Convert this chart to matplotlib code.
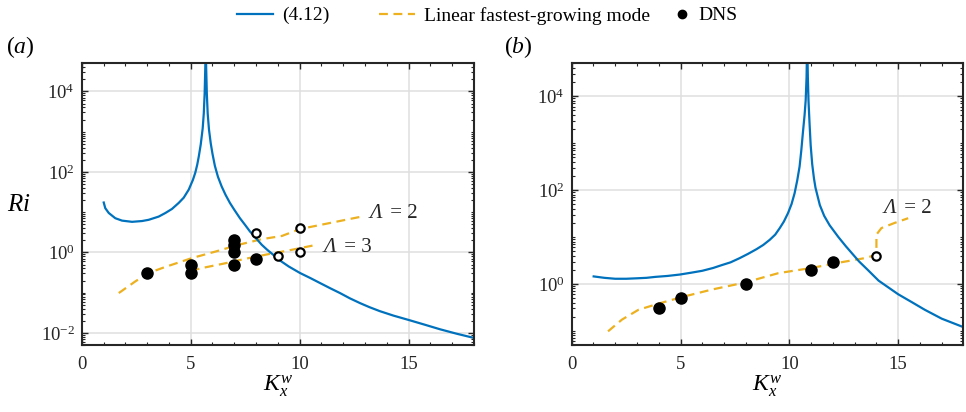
import numpy as np
import matplotlib.pyplot as plt
from matplotlib.ticker import FixedLocator, LogLocator, MultipleLocator, LogFormatterMathtext, NullFormatter

plt.rcParams['font.family'] = ['Liberation Serif', 'DejaVu Serif']
plt.rcParams['mathtext.fontset'] = 'custom'
plt.rcParams['mathtext.rm'] = 'Liberation Serif'
plt.rcParams['mathtext.it'] = 'Liberation Serif:italic'
plt.rcParams['mathtext.bf'] = 'Liberation Serif:bold'

blue = '#0072BD'
yellow = '#EDB120'

# ---- panel (a) data (log10 for Ri) ----
a_curve_k = [1.01, 1.08, 1.24, 1.54, 1.85, 2.31, 2.77, 3.07, 3.53, 3.84, 4.14, 4.45, 4.68,
             4.91, 5.10, 5.21, 5.30, 5.37, 5.46, 5.55, 5.60, 5.64, 5.67, 5.69,
             5.71, 5.74, 5.78, 5.84, 5.92, 6.00, 6.11, 6.25, 6.42, 6.60, 6.80, 7.00,
             7.26, 7.50, 7.72, 8.00, 8.26, 8.50, 8.79, 9.04, 9.50, 10.01, 10.50, 10.93,
             11.40, 11.85, 12.30, 12.77, 13.20, 13.68, 14.30, 15.01, 15.70, 16.44, 17.20,
             17.96, 18.10]
a_curve_logri = [1.24, 1.10, 0.98, 0.85, 0.79, 0.76, 0.78, 0.81, 0.89, 0.98, 1.08, 1.23, 1.36,
                 1.56, 1.80, 1.98, 2.18, 2.38, 2.68, 3.08, 3.45, 3.95, 4.60, 5.20,
                 4.60, 3.95, 3.45, 3.05, 2.71, 2.45, 2.15, 1.88, 1.64, 1.43, 1.23, 1.06,
                 0.85, 0.68, 0.52, 0.35, 0.19, 0.07, -0.06, -0.18, -0.35, -0.51, -0.64, -0.76,
                 -0.89, -1.01, -1.14, -1.26, -1.36, -1.46, -1.57, -1.68, -1.79, -1.91, -2.02,
                 -2.12, -2.14]

a_lam2_k = [1.70, 2.46, 3.07, 3.84, 5.06, 6.13, 7.20, 8.27, 9.19, 10.01, 12.84]
a_lam2_logri = [-1.01, -0.72, -0.51, -0.36, -0.14, 0.02, 0.19, 0.33, 0.41, 0.58, 0.89]
a_lam3_k = [5.0, 5.5, 6.5, 7.5, 8.5, 9.5, 10.6]
a_lam3_logri = [-0.46, -0.39, -0.28, -0.16, -0.05, 0.05, 0.17]

a_dns_k = [3, 5, 5, 7, 7, 7, 7, 8]
a_dns_ri = [0.3, 0.5, 0.3, 2.0, 1.5, 1.0, 0.5, 0.7]
a_open_k = [8, 9, 10, 10]
a_open_ri = [3.0, 0.8, 4.0, 1.0]

# ---- panel (b) data ----
b_curve_k = [1.01, 1.50, 2.00, 2.50, 3.00, 3.44, 3.84, 4.40, 4.97, 5.50, 6.00, 6.50, 6.89,
             7.30, 7.72, 8.10, 8.49, 8.80, 9.10, 9.35, 9.56, 9.75, 9.94, 10.10, 10.24, 10.36,
             10.47, 10.55, 10.62, 10.70, 10.75, 10.79, 10.82,
             10.85, 10.88, 10.93, 10.98, 11.05, 11.13, 11.20, 11.40, 11.60, 11.85, 12.25,
             12.60, 13.20, 13.60, 14.10, 15.00, 15.67, 16.22, 17.00, 18.05]
b_curve_logri = [0.16, 0.13, 0.11, 0.11, 0.12, 0.13, 0.15, 0.17, 0.20, 0.24, 0.28, 0.34, 0.40,
                 0.46, 0.55, 0.64, 0.74, 0.83, 0.94, 1.05, 1.19, 1.33, 1.51, 1.70, 1.93, 2.20,
                 2.50, 2.85, 3.21, 3.60, 3.91, 4.40, 5.20,
                 4.40, 3.90, 3.40, 2.95, 2.55, 2.25, 2.05, 1.68, 1.45, 1.25, 1.00,
                 0.80, 0.48, 0.30, 0.07, -0.22, -0.40, -0.55, -0.74, -0.93]

b_lam2_k = [1.67, 2.31, 3.07, 3.99, 5.06, 6.44, 7.96, 9.50, 11.02, 12.24, 13.47, 14.0, 14.0,
            14.23, 14.84, 15.46]
b_lam2_logri = [-1.01, -0.76, -0.55, -0.42, -0.28, -0.12, 0.03, 0.23, 0.34, 0.45, 0.55, 0.62,
                1.05, 1.19, 1.30, 1.40]

b_dns_k = [4, 5, 8, 11, 12]
b_dns_ri = [0.3, 0.5, 1.0, 2.0, 3.0]
b_open_k = [14]
b_open_ri = [4.0]


def style_axes(ax, ylim, yticks):
    ax.set_yscale('log')
    ax.set_xlim(0, 18)
    ax.set_ylim(*ylim)
    ax.xaxis.set_major_locator(FixedLocator([0, 5, 10, 15]))
    ax.xaxis.set_minor_locator(MultipleLocator(1))
    ax.yaxis.set_major_locator(FixedLocator(yticks))
    ax.yaxis.set_major_formatter(LogFormatterMathtext())
    ax.yaxis.set_minor_locator(LogLocator(base=10, subs=np.arange(1, 10), numticks=30))
    ax.yaxis.set_minor_formatter(NullFormatter())
    ax.grid(True, which='major', color='#DFDFDF', linewidth=1.1)
    ax.set_axisbelow(True)
    ax.tick_params(which='both', direction='in', top=True, right=True,
                   color='#262626', labelsize=13.5, labelcolor='#262626')
    ax.tick_params(which='major', length=4, width=1.0)
    ax.tick_params(which='minor', length=2.2, width=0.8)
    ax.tick_params(axis='x', pad=8)
    ax.tick_params(axis='y', pad=5)
    for s in ax.spines.values():
        s.set_linewidth(1.5)
        s.set_color('#262626')
    ax.set_xlabel(r'$K_x^w$', fontsize=17, labelpad=0)


def lam_label(ax, x, y, n):
    # italic capital lambda followed by an upright "= n"
    t = ax.text(x, y, '\u039b', fontsize=15, fontstyle='italic', va='center', color='#262626')
    ax.annotate(' = ' + str(n), xy=(1, 0), xycoords=t, xytext=(2, 0),
                textcoords='offset points', va='bottom', ha='left',
                fontsize=15, color='#262626')


fig = plt.figure(figsize=(9.66, 4.12), dpi=100)
ax1 = fig.add_axes([0.0846, 0.1626, 0.4061, 0.6837])
ax2 = fig.add_axes([0.5918, 0.1626, 0.4056, 0.6837])

dash = (0, (4, 2.5))

# panel (a)
ax1.plot(a_lam2_k, 10 ** np.array(a_lam2_logri), color=yellow, lw=1.6, ls=dash)
ax1.plot(a_lam3_k, 10 ** np.array(a_lam3_logri), color=yellow, lw=1.6, ls=dash)
ax1.plot(a_curve_k, 10 ** np.array(a_curve_logri), color=blue, lw=1.6)
ax1.plot(a_dns_k, a_dns_ri, 'o', color='black', ms=8, zorder=5)
ax1.plot(a_open_k, a_open_ri, 'o', mfc='white', mec='black', mew=1.6, ms=6, zorder=5)
style_axes(ax1, (5e-3, 5e4), [1e-2, 1e0, 1e2, 1e4])
lam_label(ax1, 13.2, 9.5, 2)
lam_label(ax1, 11.1, 1.3, 3)

# panel (b)
ax2.plot(b_lam2_k, 10 ** np.array(b_lam2_logri), color=yellow, lw=1.6, ls=dash)
ax2.plot(b_curve_k, 10 ** np.array(b_curve_logri), color=blue, lw=1.6)
ax2.plot(b_dns_k, b_dns_ri, 'o', color='black', ms=8, zorder=5)
ax2.plot(b_open_k, b_open_ri, 'o', mfc='white', mec='black', mew=1.6, ms=6, zorder=5)
style_axes(ax2, (5e-2, 5e4), [1e0, 1e2, 1e4])
lam_label(ax2, 14.35, 41, 2)

# labels
fig.text(0.019, 0.502, r'$Ri$', fontsize=18, ha='center', va='center')
fig.text(0.006, 0.885, r'($\mathit{a}$)', fontsize=17, ha='left', va='center')
fig.text(0.522, 0.885, r'($\mathit{b}$)', fontsize=17, ha='left', va='center')

# legend, one entry at a time so the spacing follows the original
h1, = ax1.plot([], [], color=blue, lw=1.6, label='(4.12)')
h2, = ax1.plot([], [], color=yellow, lw=1.6, ls=dash, label='Linear fastest-growing mode')
h3, = ax1.plot([], [], 'o', color='black', ms=6, label='DNS')
for h, x0, hl in [(h1, 0.2453, 1.85), (h2, 0.3923, 1.85), (h3, 0.6975, 0.8)]:
    fig.legend(handles=[h], loc='center left', bbox_to_anchor=(x0, 0.962), frameon=False,
               fontsize=14, handlelength=hl, handletextpad=0.45, borderpad=0,
               borderaxespad=0)

fig.savefig('out.png', dpi=100)
